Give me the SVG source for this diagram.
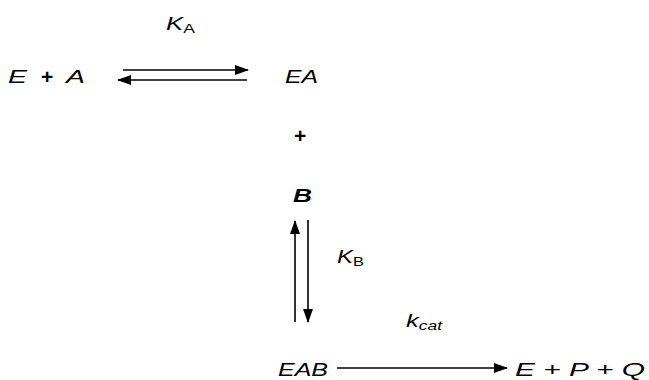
<svg xmlns="http://www.w3.org/2000/svg" width="649" height="380" viewBox="0 0 649 380">
<style>
text{font-family:"Liberation Sans",Arial,sans-serif;font-style:italic;font-size:19px;fill:#000}
.sub{font-size:13px}
.up{font-style:normal}
.pl{font-style:normal;font-weight:bold;font-size:21px}
line{stroke:#000;stroke-width:1.6}
</style>
<defs>
<marker id="ah" markerWidth="14" markerHeight="10" refX="13" refY="5" orient="auto" markerUnits="userSpaceOnUse">
<path d="M0,0 L14,5 L0,10 z" fill="#000"/>
</marker>
</defs>
<rect width="649" height="380" fill="#fff"/>
<g id="E_A">
<text x="8" y="83" textLength="19" lengthAdjust="spacingAndGlyphs">E</text>
<text class="pl" x="41" y="84">+</text>
<text x="66" y="83" textLength="19" lengthAdjust="spacingAndGlyphs">A</text>
</g>
<g id="EA"><text x="285" y="83" textLength="33" lengthAdjust="spacingAndGlyphs">EA</text></g>
<g id="plus"><text class="pl" x="294" y="143">+</text></g>
<g id="B"><text x="293" y="202" font-weight="bold" font-size="20" textLength="19" lengthAdjust="spacingAndGlyphs">B</text></g>
<g id="EAB"><text x="278" y="376" textLength="50" lengthAdjust="spacingAndGlyphs">EAB</text></g>
<g id="EPQ"><text x="515" y="376" textLength="130" lengthAdjust="spacingAndGlyphs">E + P + Q</text></g>
<g id="labels">
<text x="166" y="30" textLength="29" lengthAdjust="spacingAndGlyphs">K<tspan class="sub up" dy="3">A</tspan></text>
<text x="337" y="263" textLength="27" lengthAdjust="spacingAndGlyphs">K<tspan class="sub up" dy="3">B</tspan></text>
<text x="406" y="327" textLength="36" lengthAdjust="spacingAndGlyphs">k<tspan class="sub" dy="3">cat</tspan></text>
</g>
<g id="connectors">
<line x1="123" y1="70" x2="248" y2="70" marker-end="url(#ah)"/>
<line x1="247" y1="80" x2="118" y2="80" marker-end="url(#ah)"/>
<line x1="295" y1="322" x2="295" y2="221" marker-end="url(#ah)"/>
<line x1="308" y1="220" x2="308" y2="322" marker-end="url(#ah)"/>
<line x1="337" y1="368" x2="507" y2="368" marker-end="url(#ah)"/>
</g>
</svg>
